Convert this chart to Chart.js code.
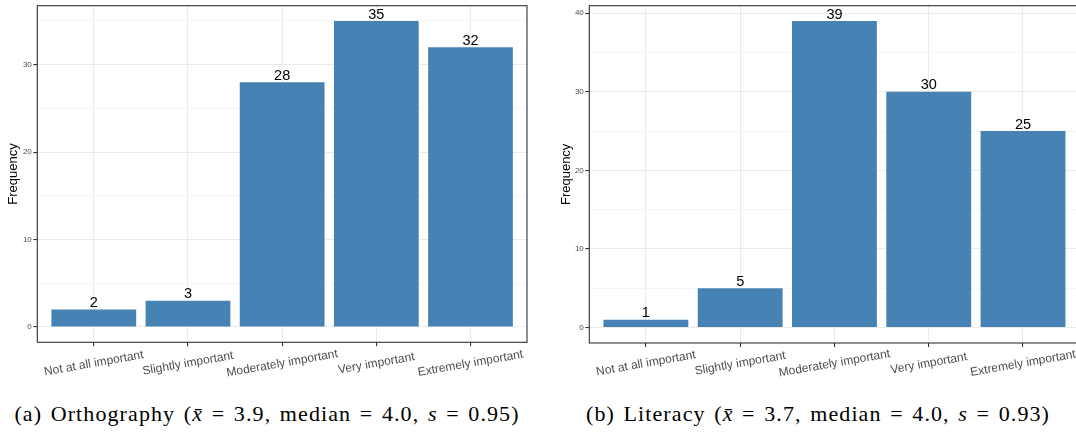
<!DOCTYPE html>
<html>
<head>
<meta charset="utf-8">
<script src="https://cdn.jsdelivr.net/npm/chart.js@4.4.0/dist/chart.umd.min.js"></script>
<style>
  html, body { margin: 0; padding: 0; background: #fff; overflow: hidden; }
  body { width: 1076px; height: 437px; position: relative; }
  canvas { position: absolute; top: 0; }
  #orthoChart { left: 0; }
  #literacyChart { left: 540px; }
  .caption {
    position: absolute; top: 403px;
    font-family: 'Liberation Serif', 'Times New Roman', serif;
    font-size: 22px; line-height: 22px; letter-spacing: 1.1px; word-spacing: 2px;
    white-space: nowrap; transform: translateX(-50%); color: #000;
  }
</style>
</head>
<body>
<canvas id="orthoChart" width="535" height="385"></canvas>
<canvas id="literacyChart" width="545" height="385"></canvas>
<div class="caption" style="left:267px">(a) Orthography (<i>x&#772;</i> = 3.9, median = 4.0, <i>s</i> = 0.95)</div>
<div class="caption" style="left:818px">(b) Literacy (<i>x&#772;</i> = 3.7, median = 4.0, <i>s</i> = 0.93)</div>
<script>
const categories = ['Not at all important', 'Slightly important', 'Moderately important', 'Very important', 'Extremely important'];
const orthographyCounts = [2, 3, 28, 35, 32];
const literacyCounts = [1, 5, 39, 30, 25];
const majorStep = 10;
const minorStep = 5;

const sans = '"Liberation Sans", Arial, Helvetica, sans-serif';

// panel box, bar counts and tilted category labels
const panelPlugin = {
  id: 'panel',
  afterDraw(chart, args, opts) {
    const { ctx, chartArea: a } = chart;
    const x = chart.scales.x;
    ctx.save();
    ctx.strokeStyle = '#333333';
    ctx.lineWidth = 1.1;
    ctx.strokeRect(a.left, a.top, a.right - a.left, a.bottom - a.top);

    ctx.fillStyle = '#000';
    ctx.font = '14.5px ' + sans;
    ctx.textAlign = 'center';
    ctx.textBaseline = 'alphabetic';
    const meta = chart.getDatasetMeta(0);
    meta.data.forEach((bar, i) => {
      ctx.fillText(String(chart.data.datasets[0].data[i].y), bar.x, bar.y - 2.5);
    });

    ctx.fillStyle = '#4D4D4D';
    ctx.font = '12px ' + sans;
    ctx.textBaseline = 'middle';
    categories.forEach((c, i) => {
      ctx.save();
      ctx.translate(x.getPixelForValue(i + 1), opts.labelY);
      ctx.rotate(-10 * Math.PI / 180);
      ctx.fillText(c, 0, 0);
      ctx.restore();
    });
    ctx.restore();
  }
};

function buildChart(id, counts, cfg) {
  const isMajor = ctx => ctx.tick && ctx.tick.value % majorStep === 0;
  return new Chart(document.getElementById(id), {
    type: 'bar',
    data: {
      datasets: [{
        data: counts.map((v, i) => ({ x: i + 1, y: v })),
        backgroundColor: '#4682B4',
        barPercentage: 0.9,
        categoryPercentage: 1
      }]
    },
    options: {
      responsive: false,
      animation: false,
      layout: { padding: { left: cfg.padLeft, right: cfg.padRight, top: 5.7, bottom: 0 } },
      scales: {
        x: {
          type: 'linear',
          min: 0.4,
          max: 5.6,
          offset: false,
          ticks: { display: false, stepSize: 1, includeBounds: false },
          grid: { offset: false, color: '#EBEBEB', lineWidth: 1.1, tickColor: '#333333', tickLength: 4 },
          border: { display: false },
          afterFit(s) {
            s.height = cfg.xAxisHeight;
            s.paddingLeft = s.paddingRight = 0;
          }
        },
        y: {
          min: cfg.yMin,
          max: cfg.yMax,
          ticks: {
            stepSize: minorStep,
            includeBounds: false,
            padding: 1.5,
            color: '#4D4D4D',
            font: { family: sans, size: 8 },
            callback: v => (v % majorStep === 0 ? String(v) : '')
          },
          grid: {
            color: ctx => (isMajor(ctx) ? '#EBEBEB' : '#F3F3F3'),
            lineWidth: ctx => (isMajor(ctx) ? 1.1 : 0.8),
            tickColor: ctx => (isMajor(ctx) ? '#333333' : 'rgba(0,0,0,0)'),
            tickLength: 4
          },
          border: { display: false },
          title: {
            display: true,
            text: 'Frequency',
            color: '#000',
            font: { family: sans, size: 13 },
            padding: { top: cfg.titlePad, bottom: 0 }
          },
          afterFit(s) {
            s.width = cfg.yAxisWidth;
            s.paddingTop = s.paddingBottom = 0;
          }
        }
      },
      plugins: {
        legend: { display: false },
        tooltip: { enabled: false },
        panel: { labelY: 363.5 }
      }
    },
    plugins: [panelPlugin]
  });
}

buildChart('orthoChart', orthographyCounts, {
  yMin: -1.75, yMax: 36.75,
  padLeft: 0, padRight: 8,
  yAxisWidth: 37.3, titlePad: 5.7,
  xAxisHeight: 42.7
});

buildChart('literacyChart', literacyCounts, {
  yMin: -1.95, yMax: 40.95,
  padLeft: 0, padRight: 5.4,
  yAxisWidth: 49.3, titlePad: 18.2,
  xAxisHeight: 42
});
</script>
</body>
</html>
